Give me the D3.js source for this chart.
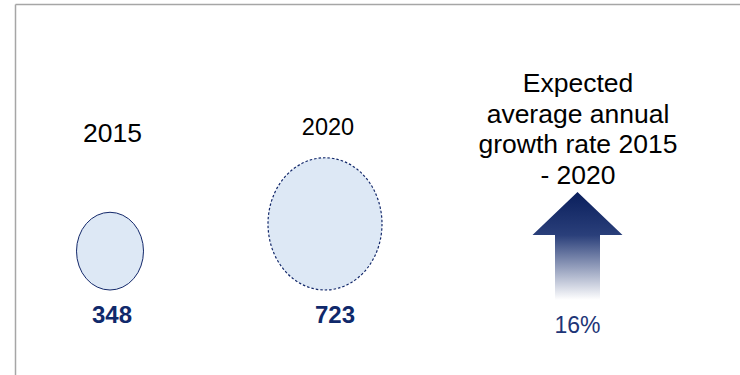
<html>
    <head>
        <script src="https://d3js.org/d3.v7.min.js"></script>
        <style>
            body { margin: 0; background: white; }
            text { font-family: "Liberation Sans", Arial, sans-serif; }
        </style>
    </head>
    <body>
        <svg id="chart" width="740" height="375"></svg>
        <script>
            // data
            const years = ["2015", "2020"];
            const values = [348, 723];
            const growthLabel = "16%";
            const growthTitle = ["Expected", "average annual", "growth rate 2015", "- 2020"];

            const svg = d3.select("#chart");

            // frame
            svg.append("line")
                .attr("x1", 15.5).attr("x2", 740).attr("y1", 4.5).attr("y2", 4.5)
                .attr("stroke", "#a6a6a6").attr("stroke-width", 1.5);
            svg.append("line")
                .attr("x1", 15.5).attr("x2", 15.5).attr("y1", 4.5).attr("y2", 375)
                .attr("stroke", "#a6a6a6").attr("stroke-width", 1.5);

            const navy = "#13286a";

            // x positions of the two bubbles
            const xScale = d3.scalePoint()
                .domain(years)
                .range([110, 325]);

            // bubble radius
            const rScale = d3.scaleLinear()
                .domain([348, 723])
                .range([33.5, 57]);

            const stretch = 1.16;   // bubbles are a bit taller than wide
            const baseY = 290;      // bubbles sit on a common bottom

            const bubbles = svg.append("g");

            bubbles.selectAll("ellipse")
                .data(values)
                .join("ellipse")
                .attr("cx", (d, i) => xScale(years[i]))
                .attr("cy", d => baseY - rScale(d) * stretch)
                .attr("rx", d => rScale(d))
                .attr("ry", d => rScale(d) * stretch)
                .attr("fill", "#dde8f5")
                .attr("stroke", navy)
                .attr("stroke-width", (d, i) => i == 0 ? 1 : 1.2)
                .attr("stroke-dasharray", (d, i) => i == 0 ? null : "2.5,2");

            // year labels
            const yearSizes = [26.5, 23.5];
            const yearY = [142, 135];
            bubbles.selectAll("text.year")
                .data(years)
                .join("text")
                .attr("class", "year")
                .attr("x", (d, i) => xScale(d) + (i == 0 ? 2.5 : 3))
                .attr("y", (d, i) => yearY[i])
                .attr("text-anchor", "middle")
                .attr("font-size", (d, i) => yearSizes[i])
                .attr("fill", "#000")
                .text(d => d);

            // value labels
            bubbles.selectAll("text.value")
                .data(values)
                .join("text")
                .attr("class", "value")
                .attr("x", (d, i) => xScale(years[i]) + (i == 0 ? 2 : 10))
                .attr("y", 323)
                .attr("text-anchor", "middle")
                .attr("font-size", 24)
                .attr("font-weight", "bold")
                .attr("fill", "#10296b")
                .text(d => d);

            // growth arrow
            const defs = svg.append("defs");
            const grad = defs.append("linearGradient")
                .attr("id", "arrowGrad")
                .attr("x1", 0).attr("x2", 0).attr("y1", 0).attr("y2", 1);
            grad.append("stop").attr("offset", "0%").attr("stop-color", "#0a1f5c");
            grad.append("stop").attr("offset", "40%").attr("stop-color", "#2a3f7a");
            grad.append("stop").attr("offset", "100%").attr("stop-color", "#ffffff");

            const ax = 577.5;
            const arrowTop = 192, headBase = 235, arrowBottom = 300;
            const headHalf = 45, shaftHalf = 22.5;
            const arrowPath = d3.path();
            arrowPath.moveTo(ax, arrowTop);
            arrowPath.lineTo(ax + headHalf, headBase);
            arrowPath.lineTo(ax + shaftHalf, headBase);
            arrowPath.lineTo(ax + shaftHalf, arrowBottom);
            arrowPath.lineTo(ax - shaftHalf, arrowBottom);
            arrowPath.lineTo(ax - shaftHalf, headBase);
            arrowPath.lineTo(ax - headHalf, headBase);
            arrowPath.closePath();

            svg.append("path")
                .attr("d", arrowPath.toString())
                .attr("fill", "url(#arrowGrad)");

            // growth title
            svg.append("g").selectAll("text")
                .data(growthTitle)
                .join("text")
                .attr("x", 578)
                .attr("y", (d, i) => 92 + i * 30.5)
                .attr("text-anchor", "middle")
                .attr("font-size", 26.5)
                .attr("fill", "#000")
                .text(d => d);

            svg.append("text")
                .attr("x", ax)
                .attr("y", 333)
                .attr("text-anchor", "middle")
                .attr("font-size", 23)
                .attr("fill", "#1d3577")
                .text(growthLabel);
        </script>
    </body>
</html>
